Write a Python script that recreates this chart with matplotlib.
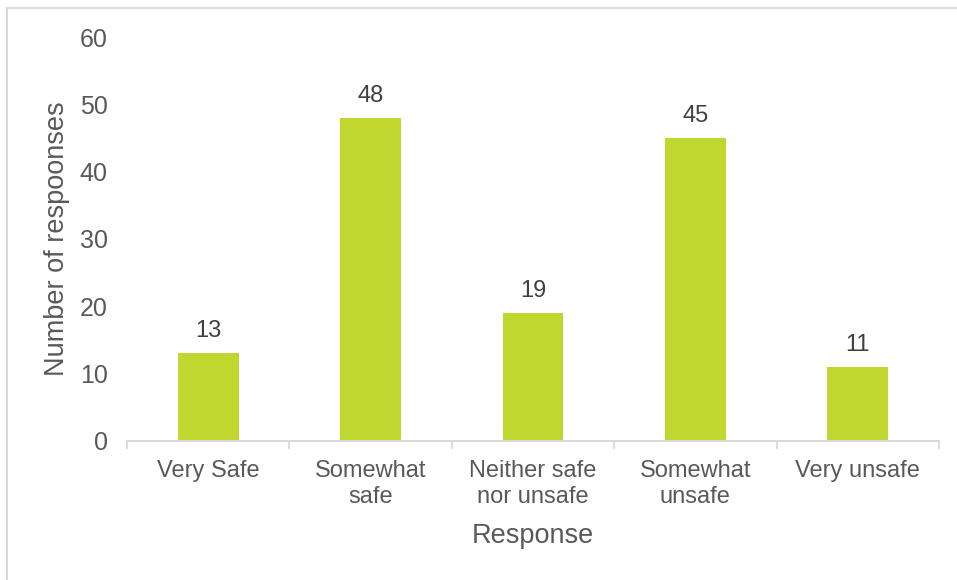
import matplotlib.pyplot as plt
from matplotlib.lines import Line2D

# survey responses
categories = ["Very Safe", "Somewhat\nsafe", "Neither safe\nnor unsafe", "Somewhat\nunsafe", "Very unsafe"]
counts = [13, 48, 19, 45, 11]

plt.rcParams['font.family'] = ['Liberation Sans', 'DejaVu Sans']
text_col = '#595959'
bar_col = '#C0D72F'
line_col = '#D9D9D9'

fig = plt.figure(figsize=(9.57, 5.8), dpi=100)
ax = fig.add_axes([0.1327, 0.2397, 0.8485, 0.6965])

x = list(range(len(categories)))
bars = ax.bar(x, counts, width=0.375, color=bar_col, zorder=2)

# value labels above each bar
for xi, v in zip(x, counts):
    ax.annotate(str(v), (xi, v), xytext=(0, 8), textcoords='offset points',
                ha='center', va='bottom', fontsize=17, color='#404040')

ax.set_xlim(-0.5, len(categories) - 0.5)
ax.set_ylim(0, 60)
ax.set_yticks(range(0, 61, 10))
ax.tick_params(axis='y', length=0, pad=14, labelsize=18, labelcolor=text_col)

# category labels centred, tick marks between categories
ax.set_xticks(x)
ax.set_xticklabels(categories, linespacing=1.22)
ax.tick_params(axis='x', which='major', length=0, pad=14, labelsize=17, labelcolor=text_col)
ax.set_xticks([i - 0.5 for i in range(len(categories) + 1)], minor=True)
ax.tick_params(axis='x', which='minor', length=6, width=1.3, color=line_col, direction='out')

for s in ['top', 'right', 'left']:
    ax.spines[s].set_visible(False)
ax.spines['bottom'].set_color(line_col)
ax.spines['bottom'].set_linewidth(1.5)

ax.set_xlabel("Response", fontsize=19.5, color=text_col, labelpad=11)
ax.set_ylabel("Number of respoonses", fontsize=19.5, color=text_col, labelpad=7)

# chart frame edges
fig.add_artist(Line2D([7.5 / 957, 1], [1 - 7.5 / 580] * 2, transform=fig.transFigure,
                      color=line_col, lw=1.5))
fig.add_artist(Line2D([7.5 / 957] * 2, [0, 1 - 7.5 / 580], transform=fig.transFigure,
                      color=line_col, lw=1.5))

fig.savefig("out.png", dpi=100, facecolor='white')
